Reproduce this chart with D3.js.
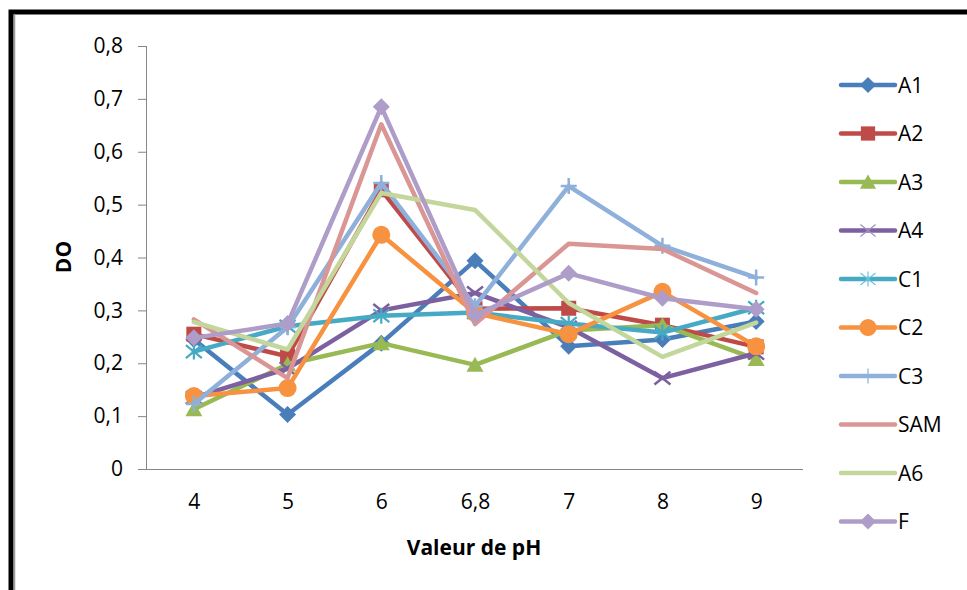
<!DOCTYPE html>
<html><head><meta charset="utf-8">
<script src="https://cdn.jsdelivr.net/npm/d3@7"></script>
<style>
html,body{margin:0;padding:0;background:#fff;}
svg{display:block;font-family:"Open Sans",sans-serif;}
</style></head>
<body>
<svg id="c" width="967" height="590"></svg>
<script>
const categories = ["4","5","6","6,8","7","8","9"];
const seriesNames = ["A1","A2","A3","A4","C1","C2","C3","SAM","A6","F"];
const A1  = [0.245,0.103,0.238,0.394,0.232,0.245,0.279];
const A2  = [0.255,0.213,0.528,0.303,0.304,0.272,0.231];
const A3  = [0.113,0.198,0.238,0.197,0.262,0.272,0.208];
const A4  = [0.135,0.190,0.300,0.333,0.268,0.172,0.219];
const C1  = [0.222,0.270,0.290,0.296,0.275,0.258,0.305];
const C2  = [0.138,0.153,0.443,0.295,0.255,0.335,0.232];
const C3  = [0.123,0.268,0.541,0.308,0.535,0.422,0.362];
const SAM = [0.283,0.172,0.652,0.274,0.426,0.416,0.333];
const A6  = [0.278,0.226,0.522,0.490,0.314,0.212,0.277];
const F   = [0.248,0.275,0.685,0.291,0.370,0.323,0.302];
const yTicks = [0,0.1,0.2,0.3,0.4,0.5,0.6,0.7,0.8];
const xTitle = "Valeur de pH";
const yTitle = "DO";

const values = [A1,A2,A3,A4,C1,C2,C3,SAM,A6,F];
const colors = ["#4A7EBB","#BE4B48","#98B954","#7D60A0","#46AAC5","#F69240","#8FB0DA","#D99694","#C3D69B","#AE9DC8"];
const markers = ["diamond","square","triangle","x","asterisk","circle","plus","none","none","diamond"];

const svg = d3.select("#c");
// chart frame
svg.append("rect").attr("x",11).attr("y",12).attr("width",1000).attr("height",700)
  .attr("fill","none").attr("stroke","#000").attr("stroke-width",5);
svg.append("line").attr("x1",14.5).attr("x2",14.5).attr("y1",14).attr("y2",590).attr("stroke","#999").attr("stroke-width",1.5);

const x = d3.scalePoint().domain(categories).range([147,803]).padding(0.5);
const y = d3.scaleLinear().domain([0,0.8]).range([469,46]);
const fmt = d => d3.format(".1f")(d).replace(".",",");

// y axis
const yAxis = d3.axisLeft(y).tickValues(yTicks).tickSize(9).tickPadding(15)
  .tickFormat(d => d===0 ? "0" : fmt(d));
const gy = svg.append("g").attr("transform","translate(147,0)").call(yAxis);
gy.select(".domain").attr("stroke","#868686").attr("d","M-0.5,46V469");
gy.selectAll(".tick line").attr("stroke","#868686");
gy.selectAll(".tick text").attr("font-size",21).attr("fill","#000").attr("font-family","Open Sans");

// x axis
const xAxis = d3.axisBottom(x).tickSize(0).tickPadding(25);
const gx = svg.append("g").attr("transform","translate(0,469)").call(xAxis);
gx.select(".domain").attr("stroke","#868686").attr("d","M147,0.5H803");
gx.selectAll(".tick text").attr("font-size",21).attr("fill","#000").attr("font-family","Open Sans");

// titles
svg.append("text").attr("x",474).attr("y",555).attr("text-anchor","middle")
  .attr("font-size",21).attr("font-weight","bold").text(xTitle);
svg.append("text").attr("transform","translate(71,257) rotate(-90)").attr("text-anchor","middle")
  .attr("font-size",21).attr("font-weight","bold").text(yTitle);

function drawMarker(g, type, cx, cy, color, scale, thin){
  const s = scale;
  if(type==="diamond"){
    g.append("path").attr("d",`M${cx},${cy-8.5*s}L${cx+8.5*s},${cy}L${cx},${cy+8.5*s}L${cx-8.5*s},${cy}Z`).attr("fill",color);
  } else if(type==="square"){
    g.append("rect").attr("x",cx-7.5*s).attr("y",cy-7.5*s).attr("width",15*s).attr("height",15*s).attr("fill",color);
  } else if(type==="triangle"){
    g.append("path").attr("d",`M${cx},${cy-8*s}L${cx+8.5*s},${cy+7*s}L${cx-8.5*s},${cy+7*s}Z`).attr("fill",color);
  } else if(type==="circle"){
    g.append("circle").attr("cx",cx).attr("cy",cy).attr("r",9*s).attr("fill",color);
  } else if(type==="x"){
    const r=8*s;
    g.append("path").attr("d",`M${cx-r},${cy-r*0.8}L${cx+r},${cy+r*0.8}M${cx-r},${cy+r*0.8}L${cx+r},${cy-r*0.8}`)
      .attr("stroke",thin?"#A48FC4":color).attr("stroke-width",thin?1.2:2.5).attr("fill","none");
  } else if(type==="asterisk"){
    const r=8*s;
    g.append("path").attr("d",`M${cx-r},${cy-r*0.8}L${cx+r},${cy+r*0.8}M${cx-r},${cy+r*0.8}L${cx+r},${cy-r*0.8}M${cx},${cy-r}L${cx},${cy+r}`)
      .attr("stroke",thin?"#6FC3DA":color).attr("stroke-width",thin?1.2:2.2).attr("fill","none");
  } else if(type==="plus"){
    const r=8*s;
    g.append("path").attr("d",`M${cx-r},${cy}L${cx+r},${cy}M${cx},${cy-r}L${cx},${cy+r}`)
      .attr("stroke",color).attr("stroke-width",thin?1.2:2.5).attr("fill","none");
  }
}

const line = d3.line().x((d,i)=>x(categories[i])).y(d=>y(d));
const plot = svg.append("g");
values.forEach((vals,si)=>{
  const g = plot.append("g");
  g.append("path").attr("d",line(vals)).attr("fill","none").attr("stroke",colors[si])
    .attr("stroke-width",4.5).attr("stroke-linejoin","round").attr("stroke-linecap","round");
  vals.forEach((v,i)=>drawMarker(g, markers[si], x(categories[i]), y(v), colors[si], 1, false));
});

// legend
const leg = svg.append("g");
seriesNames.forEach((n,i)=>{
  const ly = 85 + i*48.5;
  const g = leg.append("g");
  g.append("line").attr("x1",841).attr("x2",895).attr("y1",ly).attr("y2",ly)
    .attr("stroke",colors[i]).attr("stroke-width",4.5).attr("stroke-linecap","round");
  drawMarker(g, markers[i], 868, ly, colors[i], 0.95, true);
  g.append("text").attr("x",898).attr("y",ly).attr("dy","0.36em").attr("font-size",21).attr("fill","#000").text(n);
});
</script>
</body></html>
